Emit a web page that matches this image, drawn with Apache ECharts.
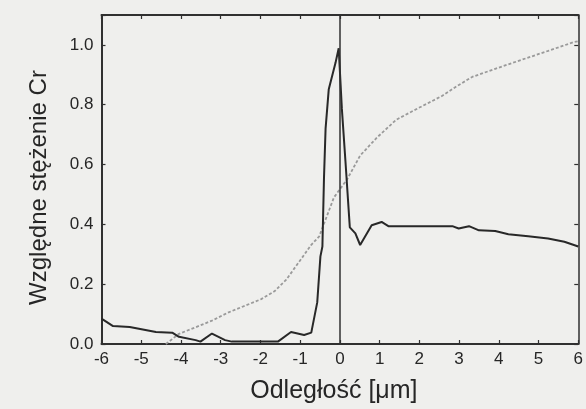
<!DOCTYPE html>
<html>
<head>
<meta charset="utf-8">
<script src="https://cdn.jsdelivr.net/npm/echarts@6/dist/echarts.min.js"></script>
<style>
  html, body { margin: 0; padding: 0; background: #efefed; }
  #chart { width: 586px; height: 409px; }
</style>
</head>
<body>
<div id="chart"></div>
<script>
// Cr concentration profile across the interface (distance in µm)
const xTicks = [-6, -5, -4, -3, -2, -1, 0, 1, 2, 3, 4, 5, 6];
const yTicks = [0.0, 0.2, 0.4, 0.6, 0.8, 1.0];

// measured profile (solid line)
const measuredX = [-6, -5.71, -5.29, -4.63, -4.22, -4.05, -3.63, -3.51, -3.22, -2.89, -2.72, -1.56, -1.23, -0.9, -0.72,
  -0.57, -0.49, -0.44, -0.4, -0.36, -0.28, -0.11, -0.03, 0.05, 0.14, 0.25, 0.39, 0.51, 0.8, 1.05, 1.22,
  2.83, 2.99, 3.25, 3.5, 3.91, 4.24, 4.74, 5.24, 5.65, 6.0];
const measuredY = [0.085, 0.06, 0.057, 0.04, 0.038, 0.024, 0.013, 0.008, 0.035, 0.013, 0.008, 0.008, 0.04, 0.03, 0.038,
  0.139, 0.293, 0.326, 0.556, 0.72, 0.852, 0.94, 0.989, 0.786, 0.611, 0.39, 0.37, 0.331, 0.397, 0.408, 0.394,
  0.394, 0.386, 0.394, 0.38, 0.378, 0.367, 0.36, 0.353, 0.342, 0.326];

// calculated profile (dotted line)
const modelX = [-4.38, -4.05, -3.63, -3.22, -2.8, -2.39, -1.98, -1.64, -1.35, -0.9, -0.73, -0.52, -0.15, 0.18, 0.51,
  0.93, 1.42, 1.92, 2.58, 2.92, 3.33, 3.91, 4.57, 5.24, 5.9, 6.0];
const modelY = [0.0, 0.034, 0.056, 0.078, 0.106, 0.128, 0.15, 0.177, 0.215, 0.298, 0.33, 0.36, 0.49, 0.55, 0.63,
  0.69, 0.75, 0.785, 0.83, 0.86, 0.893, 0.92, 0.95, 0.98, 1.01, 1.012];

const pair = (xs, ys) => xs.map((x, i) => [x, ys[i]]);

const FONT = '"Liberation Sans", Arial, sans-serif';
const INK = '#303030';

const frameAxisLine = { show: true, onZero: false, lineStyle: { color: INK, width: 2 } };
const innerTick = { show: true, inside: true, length: 4, lineStyle: { color: INK, width: 1.2 } };

const chart = echarts.init(document.getElementById('chart'), null, { renderer: 'canvas' });
chart.setOption({
  backgroundColor: '#efefed',
  animation: false,
  grid: { left: 101.5, right: 2, top: 15, bottom: 60 },
  xAxis: [
    {
      type: 'value', min: -6, max: 6, interval: 1, position: 'bottom',
      axisLine: frameAxisLine, axisTick: innerTick, splitLine: { show: false },
      axisLabel: { color: '#262626', fontFamily: FONT, fontSize: 17, margin: 7,
        formatter: v => (xTicks.includes(v) ? String(v) : '') },
      name: 'Odległość [μm]', nameLocation: 'middle', nameGap: 35,
      nameTextStyle: { color: '#262626', fontFamily: FONT, fontSize: 25, padding: [0, 12, 0, 0] }
    },
    {
      type: 'value', min: -6, max: 6, interval: 1, position: 'top',
      axisLine: frameAxisLine, axisTick: innerTick, axisLabel: { show: false }, splitLine: { show: false }
    }
  ],
  yAxis: [
    {
      type: 'value', min: 0, max: 1.1, interval: 0.2, position: 'left',
      axisLine: frameAxisLine, axisTick: innerTick, splitLine: { show: false },
      axisLabel: { color: '#262626', fontFamily: FONT, fontSize: 17, margin: 8,
        formatter: v => (yTicks.some(t => Math.abs(t - v) < 1e-6) ? v.toFixed(1) : '') },
      name: 'Względne stężenie Cr', nameLocation: 'middle', nameGap: 50,
      nameTextStyle: { color: '#262626', fontFamily: FONT, fontSize: 24, padding: [0, 16, 0, 0] }
    },
    {
      type: 'value', min: 0, max: 1.1, interval: 0.2, position: 'right',
      axisLine: { show: true, onZero: false, lineStyle: { color: INK, width: 1.5 } },
      axisTick: innerTick, axisLabel: { show: false }, splitLine: { show: false }
    }
  ],
  series: [
    {
      name: 'model', type: 'line', data: pair(modelX, modelY),
      showSymbol: false, symbol: 'none', smooth: false,
      lineStyle: { color: '#9a9a9a', width: 1.8, type: [3, 2] },
      z: 2
    },
    {
      name: 'measured', type: 'line', data: pair(measuredX, measuredY),
      showSymbol: false, symbol: 'none', smooth: false,
      lineStyle: { color: '#282828', width: 2 },
      markLine: {
        silent: true, symbol: 'none', label: { show: false },
        lineStyle: { color: INK, width: 1.5, type: 'solid' },
        data: [{ xAxis: 0 }]
      },
      z: 3
    }
  ]
});
</script>
</body>
</html>
